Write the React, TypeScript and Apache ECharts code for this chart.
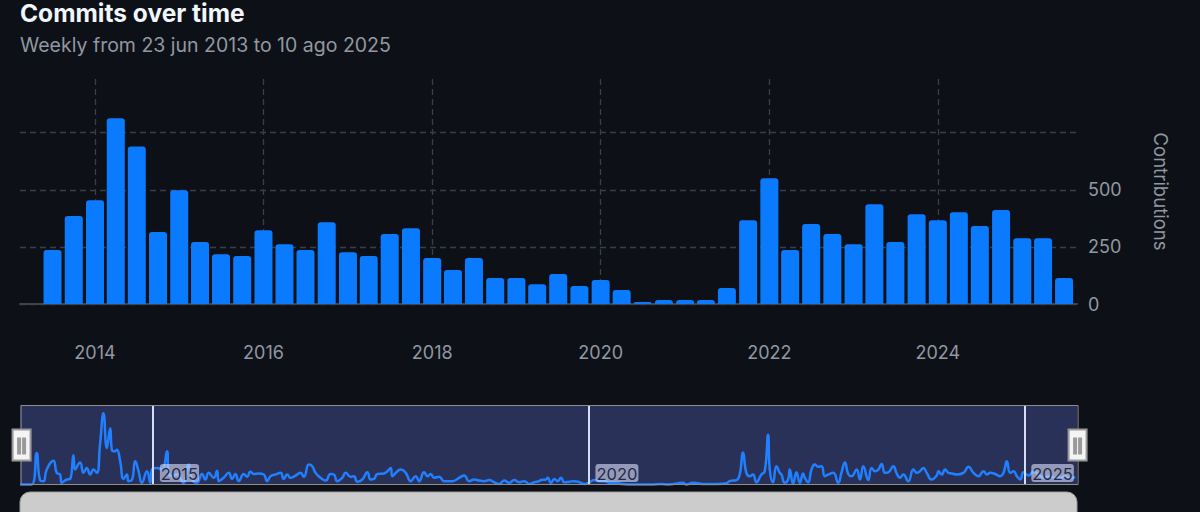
import React, { useEffect, useRef } from 'react';
import * as echarts from 'echarts';

// ---------- data ----------
const titleText = 'Commits over time';
const subtitleText = 'Weekly from 23 jun 2013 to 10 ago 2025';
const yAxisName = 'Contributions';

// quarterly bars (quarter start dates)
const quarterStarts = [
  '2013-07-01', '2013-10-01',
  '2014-01-01', '2014-04-01', '2014-07-01', '2014-10-01',
  '2015-01-01', '2015-04-01', '2015-07-01', '2015-10-01',
  '2016-01-01', '2016-04-01', '2016-07-01', '2016-10-01',
  '2017-01-01', '2017-04-01', '2017-07-01', '2017-10-01',
  '2018-01-01', '2018-04-01', '2018-07-01', '2018-10-01',
  '2019-01-01', '2019-04-01', '2019-07-01', '2019-10-01',
  '2020-01-01', '2020-04-01', '2020-07-01', '2020-10-01',
  '2021-01-01', '2021-04-01', '2021-07-01', '2021-10-01',
  '2022-01-01', '2022-04-01', '2022-07-01', '2022-10-01',
  '2023-01-01', '2023-04-01', '2023-07-01', '2023-10-01',
  '2024-01-01', '2024-04-01', '2024-07-01', '2024-10-01',
  '2025-01-01', '2025-04-01', '2025-07-01',
];
const quarterCommits = [
  236, 385,
  454, 813, 690, 315,
  498, 271, 218, 210,
  323, 262, 236, 358,
  227, 210, 306, 332,
  201, 149, 201, 114,
  114, 87, 131, 79,
  105, 61, 9, 17,
  17, 17, 70, 367,
  551, 236, 350, 306,
  262, 437, 271, 393,
  367, 402, 341, 411,
  288, 288, 114,
];

// main axis range and ticks
const mainAxisStart = '2013-02-10';
const mainAxisEnd = '2025-08-26';
const mainYearTicks = [2014, 2016, 2018, 2020, 2022, 2024];
const yMax = 985;
const yLabelTicks = [0, 250, 500];
const yGridTicks = [0, 250, 500, 750];

// weekly overview (week index since start, commits)
const weekStart = '2013-06-23';
const weekEnd = '2025-08-10';
const overviewYearTicks = [2015, 2020, 2025];
const overviewMax = 145;
const weeklyPoints: [number, number][] = [
  [0, 1], [7, 1], [10, 58], [12, 9], [14, 7], [16, 28], [20, 44], [22, 22], [24, 19], [25, 4],
  [28, 10], [30, 11], [32, 54], [33, 28], [36, 41], [38, 22], [40, 31], [42, 19], [44, 28], [46, 22],
  [48, 76], [50, 130], [52, 67], [54, 103], [55, 64], [57, 61], [58, 64], [60, 43], [62, 11], [64, 19],
  [65, 7], [67, 9], [69, 43], [71, 25], [73, 4], [76, 25], [78, 4], [79, 28], [82, 31], [85, 28],
  [88, 61], [89, 22], [91, 16], [94, 19], [98, 4], [99, 13], [101, 37], [103, 10], [106, 4], [109, 20],
  [111, 10], [113, 22], [116, 13], [118, 26], [119, 7], [122, 13], [125, 22], [127, 11], [129, 20], [131, 7],
  [134, 20], [136, 15], [138, 24], [140, 20], [143, 21], [146, 19], [148, 7], [150, 16], [153, 19], [156, 22],
  [158, 11], [160, 19], [162, 13], [165, 17], [168, 22], [170, 15], [173, 37], [175, 34], [177, 22], [180, 13],
  [183, 8], [186, 20], [188, 19], [190, 7], [193, 13], [195, 22], [198, 15], [200, 16], [202, 6], [205, 10],
  [208, 23], [210, 10], [212, 11], [214, 20], [218, 21], [220, 25], [222, 31], [223, 16], [226, 25], [228, 28],
  [231, 22], [234, 7], [237, 16], [239, 7], [242, 23], [244, 16], [246, 20], [248, 13], [251, 15], [254, 7],
  [259, 7], [263, 13], [266, 17], [269, 7], [272, 10], [275, 8], [278, 7], [281, 9], [284, 5], [287, 2],
  [290, 8], [293, 4], [296, 9], [299, 5], [302, 7], [305, 2], [308, 5], [311, 7], [312, 9], [315, 10],
  [316, 13], [318, 4], [320, 11], [322, 7], [324, 13], [326, 5], [329, 6], [332, 7], [335, 5], [338, 2],
  [341, 5], [344, 9], [347, 7], [350, 7], [353, 4], [357, 4], [360, 2], [364, 1], [368, 1], [378, 1],
  [384, 2], [388, 1], [397, 4], [399, 1], [403, 4], [406, 3], [410, 2], [418, 2], [423, 3], [425, 7],
  [429, 9], [431, 19], [433, 59], [435, 22], [437, 16], [439, 19], [441, 5], [444, 19], [446, 25], [448, 91],
  [449, 28], [451, 5], [453, 34], [455, 22], [456, 19], [458, 4], [460, 10], [461, 28], [463, 2], [465, 23],
  [467, 4], [469, 21], [470, 13], [472, 5], [474, 28], [476, 37], [478, 33], [480, 34], [482, 16], [484, 19],
  [487, 22], [490, 4], [492, 23], [494, 41], [496, 20], [498, 16], [501, 28], [503, 10], [505, 34], [508, 9],
  [510, 31], [512, 25], [514, 28], [516, 38], [518, 22], [520, 23], [523, 34], [525, 21], [527, 13], [529, 19],
  [532, 7], [535, 28], [537, 22], [539, 25], [541, 31], [543, 22], [546, 10], [549, 17], [550, 25], [552, 19],
  [554, 28], [556, 22], [558, 21], [561, 19], [565, 22], [568, 33], [571, 22], [574, 16], [577, 25], [579, 19],
  [581, 22], [584, 20], [587, 16], [589, 22], [591, 43], [593, 22], [595, 25], [597, 16], [599, 10], [601, 23],
  [604, 17], [607, 25], [610, 19], [613, 13], [616, 16], [620, 13], [623, 13], [626, 16], [628, 13], [632, 14],
];

// ---------- helpers ----------
const toTime = (s: string) => {
  const [y, m, d] = s.split('-').map(Number);
  return new Date(y, m - 1, d).getTime();
};
const yearTime = (y: number) => new Date(y, 0, 1).getTime();
const DAY = 86400000;

const FONT = 'Inter, "Noto Sans", "DejaVu Sans", sans-serif';
const BG = '#0d1117';
const MUTED = '#9198a1';

export default function App() {
  const ref = useRef<HTMLDivElement>(null);

  useEffect(() => {
    if (!ref.current) return;
    const chart = echarts.init(ref.current, undefined, { renderer: 'svg' });

    const barData = quarterStarts.map((q, i) => [toTime(q), quarterCommits[i]]);
    const w0 = toTime(weekStart);
    const lineData = weeklyPoints.map(([w, v]) => [w0 + w * 7 * DAY, v]);

    const option: any = {
      animation: false,
      backgroundColor: BG,
      textStyle: { fontFamily: FONT },
      title: {
        text: titleText,
        subtext: subtitleText,
        left: 20,
        top: 0,
        padding: 0,
        itemGap: 10,
        textStyle: { color: '#f0f6fc', fontSize: 24.5, fontWeight: 'bold', fontFamily: FONT },
        subtextStyle: { color: MUTED, fontSize: 19.5, fontFamily: FONT },
      },
      grid: [
        { left: 20, right: 123, top: 79, bottom: 208 },
        {
          left: 20, right: 123, top: 405, height: 80,
          show: true, backgroundColor: '#2a3159', borderWidth: 0,
        },
      ],
      xAxis: [
        {
          type: 'value',
          gridIndex: 0,
          min: toTime(mainAxisStart),
          max: toTime(mainAxisEnd),
          axisLine: { show: true, lineStyle: { color: '#3d444d', width: 2 } },
          axisTick: { show: false, customValues: mainYearTicks.map(yearTime) },
          axisLabel: {
            customValues: mainYearTicks.map(yearTime),
            formatter: (v: number) => String(new Date(v).getFullYear()),
            color: MUTED,
            fontSize: 18,
            margin: 39,
            fontFamily: FONT,
          },
          splitLine: { show: true, lineStyle: { color: '#3a3f47', type: [6, 4], width: 1.3 } },
        },
        {
          type: 'value',
          gridIndex: 1,
          min: toTime(weekStart),
          max: toTime(weekEnd),
          z: 5,
          axisLine: { show: false },
          axisTick: { show: false, customValues: overviewYearTicks.map(yearTime) },
          axisLabel: {
            customValues: overviewYearTicks.map(yearTime),
            inside: true,
            margin: 3,
            align: 'left',
            formatter: (v: number) => '{a|' + new Date(v).getFullYear() + '}',
            padding: [0, 0, 0, 7],
            rich: {
              a: {
                color: '#262a40',
                fontSize: 16.5,
                fontFamily: FONT,
                backgroundColor: 'rgba(220,225,255,0.6)',
                borderRadius: 3,
                padding: [1, 1, 0, 1],
              },
            },
          },
          splitLine: { show: true, lineStyle: { color: '#d8dbf5', width: 2, type: 'solid' } },
        },
      ],
      yAxis: [
        {
          type: 'value',
          gridIndex: 0,
          position: 'right',
          min: 0,
          max: yMax,
          name: yAxisName,
          nameLocation: 'middle',
          nameRotate: -90,
          nameGap: 74,
          nameTextStyle: { color: MUTED, fontSize: 18.5, fontFamily: FONT },
          axisLine: { show: false },
          axisTick: { show: false, customValues: yGridTicks },
          axisLabel: { customValues: yLabelTicks, color: MUTED, fontSize: 18, margin: 11, fontFamily: FONT },
          splitLine: { show: true, lineStyle: { color: '#3a3f47', type: [6, 4], width: 1.3 } },
        },
        {
          type: 'value',
          gridIndex: 1,
          min: 0,
          max: overviewMax,
          show: false,
          splitLine: { show: false },
        },
      ],
      dataZoom: [
        {
          type: 'slider',
          xAxisIndex: 1,
          filterMode: 'none',
          start: 0,
          end: 100,
          left: 19,
          right: 123,
          top: 405,
          height: 80,
          z: 10,
          showDataShadow: false,
          showDetail: false,
          brushSelect: false,
          backgroundColor: 'rgba(0,0,0,0)',
          fillerColor: 'rgba(0,0,0,0)',
          borderColor: '#8d8d8d',
          borderRadius: 0,
          handleIcon: 'path://M0,0H18V31H0Z M5.5,7V22H7.5V7Z M10.5,7V22H12.5V7Z',
          handleSize: 31,
          handleStyle: { color: '#f4f4f4', borderColor: '#9a9a9a', borderWidth: 2 },
          moveHandleSize: 0,
          emphasis: { handleStyle: { color: '#f4f4f4', borderColor: '#9a9a9a', borderWidth: 2 } },
        },
      ],
      graphic: [
        {
          type: 'rect',
          shape: { x: 20, y: 492, width: 1057, height: 34, r: 10 },
          style: { fill: '#cccccc', stroke: '#9d9d9d', lineWidth: 1 },
          silent: true,
        },
      ],
      series: [
        {
          type: 'bar',
          xAxisIndex: 0,
          yAxisIndex: 0,
          data: barData,
          barWidth: 18,
          itemStyle: { color: '#0a7bff', borderRadius: [3, 3, 0, 0] },
        },
        {
          type: 'line',
          xAxisIndex: 1,
          yAxisIndex: 1,
          data: lineData,
          smooth: 0.5,
          showSymbol: false,
          lineStyle: { color: '#2080ff', width: 2.5 },
        },
      ],
    };

    chart.setOption(option);
    return () => chart.dispose();
  }, []);

  return (
    <div
      ref={ref}
      style={{ position: 'fixed', left: 0, top: 0, width: 1200, height: 512, background: BG }}
    />
  );
}
